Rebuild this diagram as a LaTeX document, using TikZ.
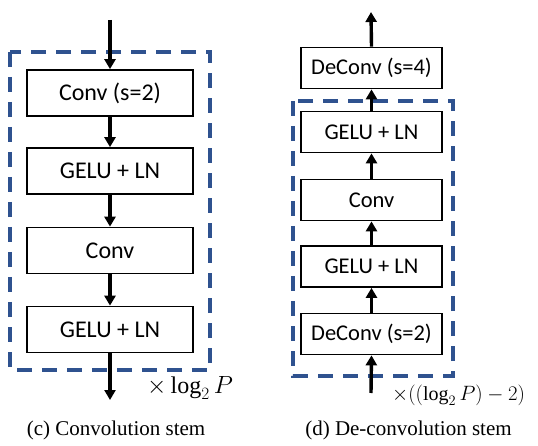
\documentclass[tikz,border=0pt]{standalone}
\usepackage{fontspec}
\setsansfont{Carlito}
\setmainfont{Liberation Serif}
\usetikzlibrary{arrows.meta}
\definecolor{dashblue}{RGB}{47,82,143}
\begin{document}
\begin{tikzpicture}[x=1pt,y=-1pt,
  blk/.style={draw,line width=1.7pt,minimum width=166pt,minimum height=46pt,inner sep=0pt,font=\sffamily\fontsize{24}{28}\selectfont},
  rblk/.style={draw,line width=1.7pt,minimum width=141pt,minimum height=41pt,inner sep=0pt,font=\sffamily\fontsize{22.5}{26}\selectfont},
  arr/.style={line width=3.4pt,-{Triangle[length=10pt,width=11pt]}},
  grp/.style={draw=dashblue,line width=3.4pt,dash pattern=on 15pt off 10pt},
  captext/.style={font=\fontsize{21}{24}\selectfont}]
\useasboundingbox (0,0) rectangle (538,446);
% left
\draw[grp] (10,52) rectangle (210,370);
\node[blk] (c1) at (110,93) {Conv (s=2)};
\node[blk] (c2) at (110,171) {GELU + LN};
\node[blk] (c3) at (110,250.5) {Conv};
\node[blk] (c4) at (110,329.5) {GELU + LN};
\coordinate (cin) at (110,20);
\coordinate (cout) at (110,400);
\draw[arr] (cin) -- (c1.north);
\draw[arr] (c1) -- (c2);
\draw[arr] (c2) -- (c3);
\draw[arr] (c3) -- (c4);
\draw[arr] (c4.south) -- (cout);
\node[anchor=west,inner sep=0pt,font=\fontsize{24}{26}\selectfont] (lbl1) at (147,388) {$\times\log_2 P$};
\node[captext,inner sep=0pt] (cap1) at (116,430) {(c) Convolution stem};
% right
\draw[grp] (293,101) rectangle (453,376);
\node[rblk] (d0) at (371.5,68) {DeConv (s=4)};
\node[rblk] (d1) at (371.5,132) {GELU + LN};
\node[rblk] (d2) at (371.5,200) {Conv};
\node[rblk] (d3) at (371.5,266.5) {GELU + LN};
\node[rblk] (d4) at (371.5,334) {DeConv (s=2)};
\coordinate (din) at (371,393);
\coordinate (dout) at (371,12);
\draw[arr] (din) -- (d4.south);
\draw[arr] (d4) -- (d3);
\draw[arr] (d3) -- (d2);
\draw[arr] (d2) -- (d1);
\draw[arr] (d1) -- (d0);
\draw[arr] (d0.north) -- (dout);
\node[anchor=west,inner sep=0pt,font=\fontsize{20}{22}\selectfont] (lbl2) at (392,395) {$\times((\log_2 P)-2)$};
\node[captext,inner sep=0pt] (cap2) at (408.5,430) {(d) De-convolution stem};
\end{tikzpicture}
\end{document}
